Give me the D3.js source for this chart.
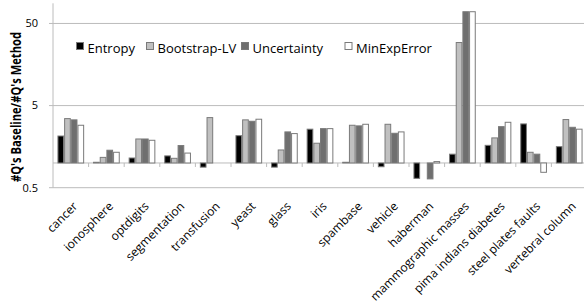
<!DOCTYPE html>
<html>
<head>
<meta charset="utf-8">
<script src="https://cdn.jsdelivr.net/npm/d3@7"></script>
<style>
  body { margin: 0; background: #fff; }
  text { font-family: "Open Sans", sans-serif; fill: #000; }
</style>
</head>
<body>
<svg></svg>
<script>
const categories = ["cancer", "ionosphere", "optdigits", "segmentation", "transfusion", "yeast",
  "glass", "iris", "spambase", "vehicle", "haberman", "mammographic masses",
  "pima indians diabetes", "steel plates faults", "vertebral column"];

const seriesNames = ["Entropy", "Bootstrap-LV", "Uncertainty", "MinExpError"];

// ratio values (null = no bar)
const entropy     = [2.13, 1.02, 1.15, 1.22, 0.89, 2.15, 0.89, 2.58, 1.02, 0.90, 0.65, 1.28, 1.64, 2.99, 1.58];
const bootstrapLV = [3.47, 1.17, 1.96, 1.14, 3.57, 3.35, 1.44, 1.74, 2.88, 2.96, null, 29.3, 2.02, 1.35, 3.38];
const uncertainty = [3.35, 1.43, 1.96, 1.63, null, 3.22, 2.39, 2.62, 2.83, 2.30, 0.64, 69.5, 2.77, 1.28, 2.72];
const minExpError = [2.88, 1.35, 1.89, 1.32, null, 3.41, 2.28, 2.62, 2.96, 2.39, 1.04, 69.5, 3.13, 0.77, 2.58];

const yTicks = [0.5, 5, 50];

const seriesValues = [entropy, bootstrapLV, uncertainty, minExpError];
const fills = ["#000000", "#c0c0c0", "#6f6f6f", "#ffffff"];

const width = 584, height = 306;
const svg = d3.select("svg").attr("width", width).attr("height", height);

// x: categories run slightly past the right edge (cropped like the original)
const x0 = d3.scaleBand().domain(categories).range([53, 587])
  .paddingInner(0.25).paddingOuter(0.125);
const x1 = d3.scaleBand().domain(seriesNames).range([0, x0.bandwidth()]);

const y = d3.scaleLog().domain([0.5, 88]).range([187.7, 3.3]);
const base = y(1);

// gridlines
svg.append("g")
  .selectAll("line")
  .data(yTicks)
  .enter()
  .append("line")
  .attr("x1", 49).attr("x2", width)
  .attr("y1", d => y(d)).attr("y2", d => y(d))
  .attr("stroke", "#bcbcbc").attr("stroke-width", 1);

// y axis line + labels
svg.append("line")
  .attr("x1", 53).attr("x2", 53)
  .attr("y1", y(88)).attr("y2", y(0.5))
  .attr("stroke", "#bcbcbc");

svg.append("g")
  .selectAll("text")
  .data(yTicks)
  .enter()
  .append("text")
  .attr("x", 38)
  .attr("y", d => y(d))
  .attr("dy", "0.35em")
  .attr("text-anchor", "end")
  .style("font-size", "11px")
  .text(d => d3.format("~g")(d));

// category axis at value 1
svg.append("line")
  .attr("x1", 53).attr("x2", width)
  .attr("y1", base).attr("y2", base)
  .attr("stroke", "#bcbcbc");

const step = x0.step();
svg.append("g")
  .selectAll("line")
  .data(categories.slice(1))
  .enter()
  .append("line")
  .attr("x1", d => x0(d) - step * 0.125)
  .attr("x2", d => x0(d) - step * 0.125)
  .attr("y1", base).attr("y2", base + 4)
  .attr("stroke", "#bcbcbc");

// bars
const bars = [];
categories.forEach((c, i) => {
  seriesValues.forEach((vals, s) => {
    if (vals[i] != null) bars.push({cat: c, series: seriesNames[s], value: vals[i], fill: fills[s]});
  });
});

svg.append("g")
  .selectAll("rect")
  .data(bars)
  .enter()
  .append("rect")
  .attr("x", d => x0(d.cat) + x1(d.series) + 0.5)
  .attr("width", x1.bandwidth() - 1)
  .attr("y", d => Math.min(y(d.value), base))
  .attr("height", d => Math.abs(y(d.value) - base))
  .attr("fill", d => d.fill)
  .attr("stroke", "#7a7a7a")
  .attr("stroke-width", 1);

// category labels
svg.append("g")
  .selectAll("text")
  .data(categories)
  .enter()
  .append("text")
  .attr("transform", d => `translate(${x0(d) + x0.bandwidth() / 2 + 7.5},207) rotate(-45)`)
  .attr("text-anchor", "end")
  .style("font-size", "12px")
  .text(d => d);

// legend
const legendX = [76.5, 146.5, 241.5, 345];
const legend = svg.append("g")
  .selectAll("g")
  .data(seriesNames)
  .enter()
  .append("g")
  .attr("transform", (d, i) => `translate(${legendX[i]},42.5)`);

legend.append("rect")
  .attr("width", 7).attr("height", 7)
  .attr("fill", (d, i) => fills[i])
  .attr("stroke", "#7a7a7a");

legend.append("text")
  .attr("x", 11).attr("y", 10.5)
  .style("font-size", "13px")
  .text(d => d);

// y axis title
svg.append("text")
  .attr("transform", "translate(21,107) rotate(-90)")
  .attr("text-anchor", "middle")
  .attr("textLength", 150)
  .attr("lengthAdjust", "spacingAndGlyphs")
  .style("font-size", "13.5px")
  .style("font-weight", "bold")
  .text("#Q's Baseline/#Q's Method");
</script>
</body>
</html>
